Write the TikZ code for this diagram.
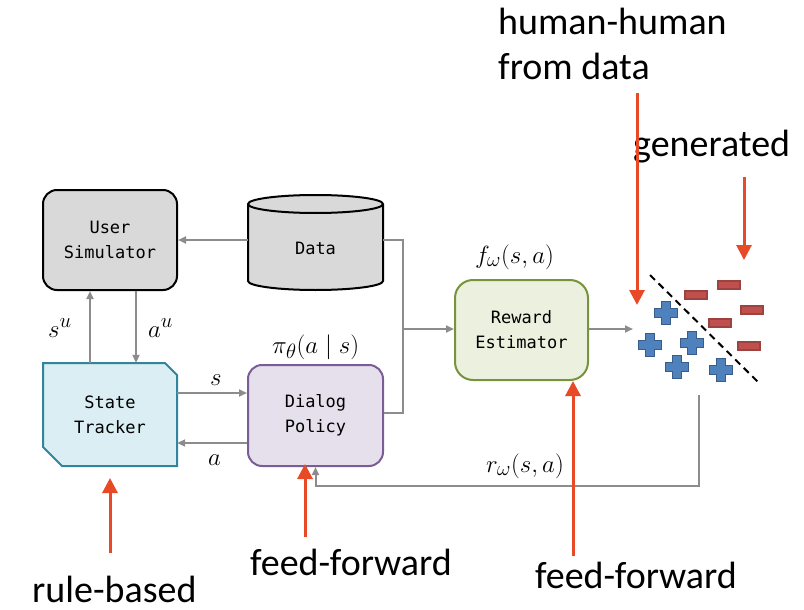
\documentclass[tikz,border=0pt]{standalone}
\usepackage{fontspec}
\setmainfont{Carlito}
\newfontfamily\boxfont{DejaVu Sans Mono}
\usetikzlibrary{arrows.meta,calc}
\definecolor{glinec}{HTML}{8C8C8C}
\definecolor{redarr}{HTML}{E84A27}
\definecolor{boxgray}{HTML}{D9D9D9}
\definecolor{stfill}{HTML}{DAEEF3}
\definecolor{stborder}{HTML}{31849B}
\definecolor{pfill}{HTML}{E5E0EC}
\definecolor{pborder}{HTML}{7A5C96}
\definecolor{rfill}{HTML}{EBF1DE}
\definecolor{rborder}{HTML}{77933C}
\definecolor{plusfill}{HTML}{4F81BD}
\definecolor{plusdraw}{HTML}{385D8A}
\definecolor{minusfill}{HTML}{C0504D}
\definecolor{minusdraw}{HTML}{9C4340}
\tikzset{
  boxstyle/.style={draw, line width=2pt, rounded corners=14pt, inner sep=0pt,
    font=\boxfont\fontsize{17}{25}\selectfont, align=center},
  txtbox/.style={inner sep=0pt, font=\boxfont\fontsize{17}{25}\selectfont, align=center},
  gar/.style={draw=glinec, line width=2pt, -{Triangle[length=8pt,width=7pt]}},
  gl/.style={draw=glinec, line width=2pt},
  rar/.style={draw=redarr, line width=3pt, -{Triangle[length=15pt,width=15pt]}},
  mlab/.style={anchor=base west, inner sep=0pt, font=\fontsize{24.88}{30}\selectfont},
  biglab/.style={anchor=base west, inner sep=0pt, font=\fontsize{38}{45}\selectfont},
  plusm/.pic={\path[fill=plusfill, draw=plusdraw, line width=1.2pt]
     (-11.5,-4.5) -- (-4.5,-4.5) -- (-4.5,-11.5) -- (4.5,-11.5) -- (4.5,-4.5) -- (11.5,-4.5)
     -- (11.5,4.5) -- (4.5,4.5) -- (4.5,11.5) -- (-4.5,11.5) -- (-4.5,4.5) -- (-11.5,4.5) -- cycle;},
  minusm/.pic={\path[fill=minusfill, draw=minusdraw, line width=1.2pt] (-11,-4) rectangle (11,4);}
}
\begin{document}
\begin{tikzpicture}[x=1pt,y=-1pt]
\useasboundingbox (0,0) rectangle (804,610);

% User simulator
\node[boxstyle, fill=boxgray, minimum width=134pt, minimum height=100pt] (usersim) at (110,240) {User\\Simulator};

% Data cylinder
\node[inner sep=0pt, minimum width=135pt, minimum height=95pt] (data) at (315.5,242.5) {};
\path[fill=boxgray, draw=black, line width=2pt] (248,204) -- (248,281)
  arc[start angle=180, end angle=360, x radius=67.5pt, y radius=9pt] -- (383,204)
  arc[start angle=0, end angle=180, x radius=67.5pt, y radius=9pt] -- cycle;
\draw[line width=2pt] (248,204) arc[start angle=180, end angle=360, x radius=67.5pt, y radius=9pt];
\node[txtbox] (datatxt) at (315.5,248) {Data};

% State tracker
\path[fill=stfill, draw=stborder, line width=2pt] (43,363) -- (165,363) -- (177,375) -- (177,466) -- (62,466) -- (43,447) -- cycle;
\node[txtbox, minimum width=134pt, minimum height=103pt] (tracker) at (110,414.5) {State\\Tracker};

% Dialog policy
\node[boxstyle, fill=pfill, draw=pborder, minimum width=135pt, minimum height=101pt] (policy) at (315.5,415.5) {Dialog\\Policy};

% Reward estimator
\node[boxstyle, rounded corners=18pt, fill=rfill, draw=rborder, minimum width=133pt, minimum height=100pt] (reward) at (521.5,330) {Reward\\Estimator};

% gray connectors
\draw[gar] (data.west |- usersim.east) -- (usersim.east);
\draw[gar] ([xshift=-20pt]tracker.north) -- ([xshift=-20pt]usersim.south);
\draw[gar] ([xshift=26pt]usersim.south) -- ([xshift=26pt]tracker.north);
\draw[gar] ([yshift=21.5pt]tracker.east) -- ([yshift=21.5pt]tracker.east -| policy.west);
\draw[gar] ([yshift=-28.5pt]tracker.east -| policy.west) -- ([yshift=-28.5pt]tracker.east);
\coordinate (j1) at (403,240);
\coordinate (j2) at (403,413);
\coordinate (j3) at (403,329);
\draw[gl] (data.east |- j1) -- (j1) -- (j2) -- (j2 -| policy.east);
\draw[gar] (j3) -- (j3 -| reward.west);
\coordinate (cl) at (633,329);
\draw[gar] (reward.east |- cl) -- (cl);
\coordinate (rs) at (699,395);
\coordinate (rb) at (699,486);
\draw[gar] (rs) -- (rb) -| (policy.south);

% classifier
\draw[line width=2pt, dash pattern=on 7pt off 5pt] (650,275) -- (760,384);
\pic at (666,313) {plusm};
\pic at (650,345) {plusm};
\pic at (692,343) {plusm};
\pic at (677,367) {plusm};
\pic at (721,370) {plusm};
\pic at (729,285) {minusm};
\pic at (696,295) {minusm};
\pic at (752,310) {minusm};
\pic at (720,323) {minusm};
\pic at (749,346) {minusm};

% math labels
\node[mlab] (su) at (48,337) {$s^u$};
\node[mlab] (au) at (148,337) {$a^u$};
\node[mlab] (pil) at (272,353) {$\pi_\theta(a\mid s)$};
\node[mlab] (sl) at (210,385) {$s$};
\node[mlab] (al) at (208,465) {$a$};
\node[mlab] (fw) at (475,263) {$f_\omega(s,a)$};
\node[mlab] (rw) at (486,472) {$r_\omega(s,a)$};

% big labels
\node[biglab] (hh1) at (498,35) {human-human};
\node[biglab] (hh2) at (498,80) {from data};
\node[biglab] (gen) at (633,157) {generated};
\node[biglab] (rule) at (32,602) {rule-based};
\node[biglab] (ffa) at (250,575) {feed-forward};
\node[biglab] (ffb) at (535,588) {feed-forward};

% red arrows
\coordinate (r1t) at (110,553); \coordinate (r1h) at (110,478);
\coordinate (r2t) at (305,537); \coordinate (r2h) at (305,464);
\coordinate (r3t) at (573,556); \coordinate (r3h) at (573,381);
\coordinate (r4t) at (637,93);  \coordinate (r4h) at (637,305);
\coordinate (r5t) at (744,177); \coordinate (r5h) at (744,260);
\draw[rar] (r1t) -- (r1h);
\draw[rar] (r2t) -- (r2h);
\draw[rar] (r3t) -- (r3h);
\draw[rar] (r4t) -- (r4h);
\draw[rar] (r5t) -- (r5h);
\end{tikzpicture}
\end{document}
